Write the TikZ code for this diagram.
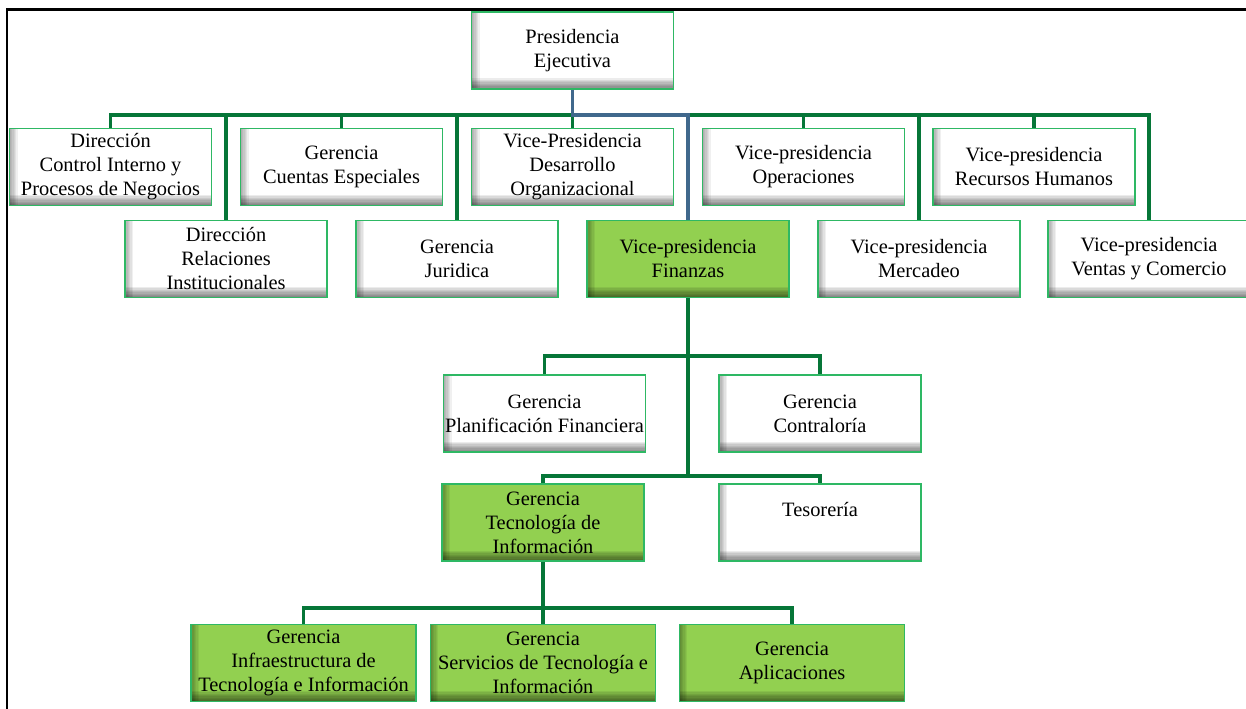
\documentclass[tikz,border=0pt]{standalone}
\usepackage{fontspec}
\setmainfont{Liberation Serif}
\begin{document}
\definecolor{boxline}{RGB}{46,184,100}
\definecolor{linkgreen}{RGB}{6,118,56}
\definecolor{linkblue}{RGB}{64,104,140}
\definecolor{leaf}{RGB}{146,208,80}
\tikzset{
  unitbox/.style={draw=boxline, line width=1.1pt, fill=#1, align=center,
    minimum width=151.5pt, minimum height=58pt, inner sep=1pt,
    font=\rmfamily\fontsize{15.3}{18}\selectfont,
    path picture={
      % soft inner shadow along the left and bottom edges
      \foreach \k in {1,...,6}
        \fill[black, opacity=0.06]
          (path picture bounding box.south west) rectangle ([xshift=\k pt]path picture bounding box.north west);
      \foreach \k in {1,...,8}
        \fill[black, opacity=0.075]
          (path picture bounding box.south west) rectangle ([yshift=\k pt]path picture bounding box.south east);
    }},
  plainbox/.style={unitbox=white},
  keybox/.style={unitbox=leaf},
  wide/.style={minimum width=169pt},
  conn/.style={draw=linkgreen, line width=2.3pt},
  mainconn/.style={draw=linkblue, line width=2.3pt},
}
\begin{tikzpicture}[x=0.75pt, y=-0.75pt]
\useasboundingbox (0,0) rectangle (1246,709);
\fill[white] (0,0) rectangle (1246,709);
% page frame, top and left edges
\draw[line width=2pt] (7,709) -- (7,9.5) -- (1246,9.5);

% top of the chart
\node[plainbox] (pres) at (572.5,50.5) {Presidencia\\Ejecutiva};

% first row of direct reports
\node[plainbox] (ctrl) at (110.5,167) {Dirección\\Control Interno y\\Procesos de Negocios};
\node[plainbox] (cuentas) at (341.5,167) {Gerencia\\Cuentas Especiales};
\node[plainbox] (desarrollo) at (572.5,167) {Vice-Presidencia\\Desarrollo\\Organizacional};
\node[plainbox] (oper) at (803.5,167) {Vice-presidencia\\Operaciones};
\node[plainbox] (rrhh) at (1034,167) {Vice-presidencia\\Recursos Humanos};

% second row of direct reports
\node[plainbox] (relac) at (226,259) {Dirección\\Relaciones\\Institucionales};
\node[plainbox] (jurid) at (457,259) {Gerencia\\Juridica};
\node[keybox] (fin) at (688,259) {Vice-presidencia\\Finanzas};
\node[plainbox] (merc) at (919,259) {Vice-presidencia\\Mercadeo};
\node[plainbox] (ventas) at (1149,259) {Vice-presidencia\\Ventas y Comercio};

% finance area
\node[plainbox] (plan) at (544.5,413.5) {Gerencia\\Planificación Financiera};
\node[plainbox] (contr) at (820,413.5) {Gerencia\\Contraloría};
\node[keybox] (tec) at (543,522.5) {Gerencia\\Tecnología de\\Información};
\node[plainbox] (teso) at (820,522.5) {\raisebox{8.5pt}[0.7em][0.2em]{Tesorería}};

% information technology area
\node[keybox, wide] (infra) at (303.5,663) {Gerencia\\Infraestructura de\\Tecnología e Información};
\node[keybox, wide] (serv) at (543,663) {Gerencia\\Servicios de Tecnología e\\Información};
\node[keybox, wide] (aplic) at (792,663) {Gerencia\\Aplicaciones};

% connector levels
\coordinate (topbus) at (0,115);
\coordinate (finbusA) at (0,356);
\coordinate (finbusB) at (0,476);
\coordinate (itbus) at (0,608);

% executive level
\draw[conn] (ctrl.north) -- (ctrl.north |- topbus) -- (ventas.north |- topbus) -- (ventas.north);
\foreach \n in {cuentas,desarrollo,oper,rrhh,relac,jurid,merc}
  \draw[conn] (\n.north) -- (\n.north |- topbus);
\draw[mainconn] (pres.south) -- (pres.south |- topbus) -- (fin.north |- topbus) -- (fin.north);

% finance level
\draw[conn] (fin.south) -- (fin.south |- finbusB);
\draw[conn] (plan.north) -- (plan.north |- finbusA) -- (contr.north |- finbusA) -- (contr.north);
\draw[conn] (tec.north) -- (tec.north |- finbusB) -- (teso.north |- finbusB) -- (teso.north);

% information technology level
\draw[conn] (tec.south) -- (serv.north);
\draw[conn] (infra.north) -- (infra.north |- itbus) -- (aplic.north |- itbus) -- (aplic.north);
\end{tikzpicture}
\end{document}
